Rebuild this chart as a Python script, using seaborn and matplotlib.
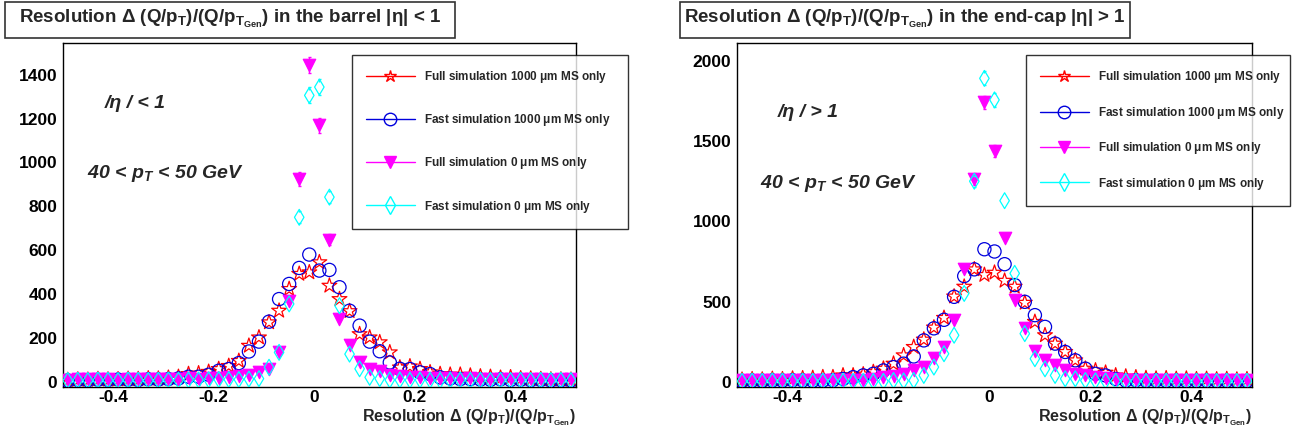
import numpy as np
import pandas as pd
import seaborn as sns
import matplotlib.pyplot as plt
from matplotlib.lines import Line2D
from matplotlib.patches import Rectangle
from matplotlib.ticker import MultipleLocator

# bin centres of the resolution histograms (width 0.02, range -0.5 .. 0.52)
bin_centers = [-0.49, -0.47, -0.45, -0.43, -0.41, -0.39, -0.37, -0.35, -0.33, -0.31,
               -0.29, -0.27, -0.25, -0.23, -0.21, -0.19, -0.17, -0.15, -0.13, -0.11,
               -0.09, -0.07, -0.05, -0.03, -0.01, 0.01, 0.03, 0.05, 0.07, 0.09,
               0.11, 0.13, 0.15, 0.17, 0.19, 0.21, 0.23, 0.25, 0.27, 0.29,
               0.31, 0.33, 0.35, 0.37, 0.39, 0.41, 0.43, 0.45, 0.47, 0.49, 0.51]

series_labels = ["Full simulation 1000 $\\mu$m MS only",
                 "Fast simulation 1000 $\\mu$m MS only",
                 "Full simulation 0 $\\mu$m MS only",
                 "Fast simulation 0 $\\mu$m MS only"]

# barrel |eta| < 1
barrel_full_1000 = [8, 10, 9, 12, 10, 11, 13, 12, 15, 14, 18, 22,
                    35, 38, 45, 58, 72, 95, 164, 202, 271, 324, 423, 492, 499,
                    545, 438, 377, 322, 217, 202, 180, 134, 65, 70, 58, 43, 35, 32, 32,
                    28, 24, 22, 18, 20, 15, 14, 12, 10, 10, 9]
barrel_fast_1000 = [6, 8, 7, 9, 8, 10, 9, 8, 11, 10, 12, 15,
                    23, 23, 32, 50, 58, 85, 138, 183, 274, 377, 446, 519, 580,
                    507, 510, 431, 324, 256, 183, 139, 88, 59, 58, 43, 35, 20, 15, 12,
                    12, 10, 9, 11, 8, 9, 7, 8, 6, 7, 6]
barrel_full_0 = [10, 12, 11, 13, 12, 10, 14, 12, 11, 13, 12, 14,
                 15, 14, 16, 18, 20, 25, 32, 43, 59, 134, 370, 925, 1445,
                 1170, 648, 285, 169, 88, 59, 50, 32, 25, 20, 20, 18, 15, 16, 14,
                 15, 13, 14, 12, 13, 12, 11, 12, 10, 11, 12]
barrel_fast_0 = [6, 7, 6, 8, 7, 6, 8, 7, 6, 7, 8, 7,
                 8, 8, 9, 10, 10, 10, 12, 14, 66, 134, 355, 750, 1306,
                 1344, 842, 347, 126, 59, 20, 14, 8, 8, 7, 8, 7, 6, 7, 8,
                 6, 7, 6, 7, 6, 7, 6, 7, 6, 7, 6]

# end-cap |eta| > 1
endcap_full_1000 = [15, 18, 16, 20, 18, 22, 24, 26,
                    31, 31, 42, 42, 48, 63, 84, 115, 167, 219, 265, 340, 400, 533, 594, 702, 667,
                    681, 631, 594, 494, 375, 292, 240, 188, 136, 84, 73, 59, 42, 35, 30,
                    25, 22, 24, 20, 22, 18, 20, 17, 19, 16, 18]
endcap_fast_1000 = [8, 10, 9, 11, 10, 12, 11, 9,
                    10, 12, 20, 31, 42, 52, 73, 94, 115, 160, 260, 335, 388, 531, 660, 702, 827,
                    813, 734, 604, 500, 417, 344, 240, 188, 136, 84, 52, 42, 20, 10, 12,
                    10, 11, 9, 10, 8, 9, 10, 8, 9, 7, 8]
endcap_full_0 = [12, 14, 13, 15, 12, 14, 13, 15,
                 14, 15, 16, 15, 16, 20, 31, 36, 52, 77, 94, 152, 220, 384, 702, 1265, 1740,
                 1438, 896, 510, 340, 194, 136, 104, 73, 52, 42, 31, 26, 20, 16, 15,
                 14, 16, 13, 15, 14, 13, 15, 12, 14, 13, 12]
endcap_fast_0 = [6, 7, 6, 8, 7, 6, 7, 6,
                 7, 6, 6, 5, 5, 5, 5, 10, 8, 11, 42, 94, 177, 292, 552, 1250, 1890,
                 1756, 1129, 677, 302, 146, 83, 42, 21, 21, 10, 8, 7, 6, 6, 6,
                 5, 6, 7, 6, 5, 6, 6, 5, 6, 5, 6]

colors = ["#ff0000", "#0000dd", "#ff00ff", "#00ffff"]
markers = ["*", "o", "v", "d"]
msizes = [125, 90, 80, 65]
half_px = [6.5, 6.5, 5.0, 5.5]   # half marker height in pixels (error bar hidden inside)
filled = [False, False, True, False]

W, H = 1293, 434
AX_H_PX = 344

sns.set_style("white")
plt.rcParams['font.family'] = ['Liberation Sans', 'DejaVu Sans']
plt.rcParams['font.weight'] = 'bold'
plt.rcParams['mathtext.default'] = 'regular'

fig = plt.figure(figsize=(W / 100, H / 100), dpi=100)


def px_rect(x0, y0, x1, y1):
    # pixel box (top-left origin) -> figure fraction [left, bottom, width, height]
    return [x0 / W, 1 - y1 / H, (x1 - x0) / W, (y1 - y0) / H]


def draw_panel(ax, values, ylim, ymajor, yminor, legend_box, spacing):
    units_per_px = (ylim[1] - ylim[0]) / AX_H_PX
    df = pd.DataFrame({'x': bin_centers})
    for i, vals in enumerate(values):
        df['y'] = vals
        df['err'] = np.sqrt(df['y'])
        r = half_px[i] * units_per_px
        big = df[df['err'] > r]
        # error bars only where they stick out of the marker (ROOT style)
        ax.vlines(big['x'], big['y'] + r, big['y'] + big['err'], color=colors[i], lw=1, zorder=2 + i)
        ax.vlines(big['x'], big['y'] - big['err'], big['y'] - r, color=colors[i], lw=1, zorder=2 + i)
        ax.hlines(big['y'] + big['err'], big['x'] - 0.003, big['x'] + 0.003, color=colors[i], lw=1, zorder=2 + i)
        ax.hlines(big['y'] - big['err'], big['x'] - 0.003, big['x'] + 0.003, color=colors[i], lw=1, zorder=2 + i)
        sns.scatterplot(data=df, x='x', y='y', ax=ax, color=colors[i], marker=markers[i],
                        s=msizes[i], facecolor=colors[i] if filled[i] else 'none',
                        edgecolor=colors[i], linewidth=0.9, zorder=2 + i)
    ax.set_xlim(-0.5, 0.52)
    ax.set_ylim(*ylim)
    ax.set_xlabel('')
    ax.set_ylabel('')
    ax.set_xticks([-0.4, -0.2, 0, 0.2, 0.4])
    ax.set_xticklabels(['-0.4', '-0.2', '0', '0.2', '0.4'])
    ax.xaxis.set_minor_locator(MultipleLocator(0.05))
    ax.yaxis.set_major_locator(MultipleLocator(ymajor))
    ax.yaxis.set_minor_locator(MultipleLocator(yminor))
    ax.tick_params(which='both', direction='in', top=False, right=False, width=1,
                   labelsize=12.5, colors='black')
    ax.tick_params(axis='x', which='major', length=10, pad=2)
    ax.tick_params(axis='x', which='minor', length=5)
    ax.tick_params(axis='y', which='major', length=14, pad=4)
    ax.tick_params(axis='y', which='minor', length=7)
    for lab in ax.get_xticklabels() + ax.get_yticklabels():
        lab.set_fontweight('bold')
    for sp in ax.spines.values():
        sp.set_color('black')
        sp.set_linewidth(1)

    ax.text(1.0, -0.06, 'Resolution Δ (Q/p$_{T}$)/(Q/p$_{T_{Gen}}$)', transform=ax.transAxes,
            ha='right', va='top', fontsize=11.5, fontweight='bold')

    handles = [Line2D([], [], color=colors[i], marker=markers[i], lw=1,
                      markersize=9 if markers[i] != 'v' else 8,
                      markerfacecolor=colors[i] if filled[i] else 'none',
                      markeredgecolor=colors[i]) for i in range(4)]
    x0, y0, x1, y1 = legend_box
    leg = ax.legend(handles, series_labels, loc='upper left', mode='expand',
                    bbox_to_anchor=(x0 / W, 1 - y1 / H, (x1 - x0) / W, (y1 - y0) / H),
                    bbox_transform=fig.transFigure, prop={'size': 8.5, 'weight': 'bold'},
                    frameon=True, fancybox=False, borderpad=1.2, labelspacing=spacing,
                    handlelength=4.1, handletextpad=0.8, borderaxespad=0)
    leg.get_frame().set_edgecolor('black')
    leg.get_frame().set_linewidth(1)
    leg.set_zorder(10)


ax1 = fig.add_axes(px_rect(62.7, 43, 576, 387))
draw_panel(ax1, [barrel_full_1000, barrel_fast_1000, barrel_full_0, barrel_fast_0],
           (-24, 1545), 200, 50, (352, 55, 628, 222), 2.3)

ax2 = fig.add_axes(px_rect(737, 43, 1252, 387))
draw_panel(ax2, [endcap_full_1000, endcap_fast_1000, endcap_full_0, endcap_fast_0],
           (-30, 2110), 500, 100, (1026, 55, 1290, 200), 1.65)

# title boxes
for (bx0, bx1, txt) in [(5, 455, 'Resolution Δ (Q/p$_{T}$)/(Q/p$_{T_{Gen}}$) in the barrel |η| < 1'),
                        (680, 1130, 'Resolution Δ (Q/p$_{T}$)/(Q/p$_{T_{Gen}}$) in the end-cap |η| > 1')]:
    r = px_rect(bx0, 2, bx1, 38)
    fig.patches.append(Rectangle((r[0], r[1]), r[2], r[3], transform=fig.transFigure,
                                 facecolor='white', edgecolor='#333333', linewidth=1.2))
    fig.text((bx0 + bx1) / 2 / W, 1 - 19 / H, txt, ha='center', va='center',
             fontsize=13.5, fontweight='bold')

# annotations
fig.text(105 / W, 1 - 103 / H, '/η / < 1', ha='left', va='center',
         fontsize=14, fontweight='bold', style='italic')
fig.text(87 / W, 1 - 173 / H, '40 < p$_{T}$ < 50 GeV', ha='left', va='center',
         fontsize=14, fontweight='bold', style='italic')
fig.text(778 / W, 1 - 113 / H, '/η / > 1', ha='left', va='center',
         fontsize=14, fontweight='bold', style='italic')
fig.text(760 / W, 1 - 183 / H, '40 < p$_{T}$ < 50 GeV', ha='left', va='center',
         fontsize=14, fontweight='bold', style='italic')

fig.savefig('out.png', dpi=100)
